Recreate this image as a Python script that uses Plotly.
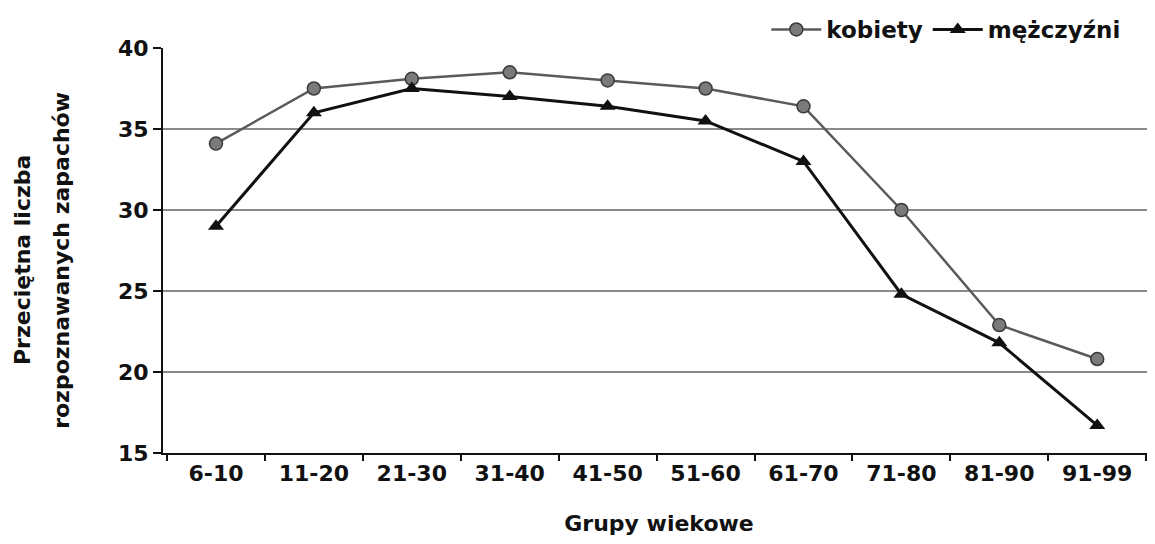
import plotly.graph_objects as go

categories = ["6-10", "11-20", "21-30", "31-40", "41-50", "51-60", "61-70", "71-80", "81-90", "91-99"]
kobiety = [34.1, 37.5, 38.1, 38.5, 38.0, 37.5, 36.4, 30.0, 22.9, 20.8]
mezczyzni = [29.0, 36.0, 37.5, 37.0, 36.4, 35.5, 33.0, 24.8, 21.8, 16.7]
y_ticks = [15, 20, 25, 30, 35, 40]
y_title_lines = ["Przeciętna liczba", "rozpoznawanych zapachów"]

FONT = "DejaVu Sans"
INK = "#111111"

fig = go.Figure()
fig.add_trace(go.Scatter(
    x=categories, y=kobiety, name="kobiety", mode="lines+markers",
    line=dict(color="#5a5a5a", width=2.5),
    marker=dict(symbol="circle", size=13, color="#7a7a7a", line=dict(color="#3a3a3a", width=1.5)),
))
fig.add_trace(go.Scatter(
    x=categories, y=mezczyzni, name="mężczyźni", mode="lines+markers",
    line=dict(color=INK, width=3),
    marker=dict(symbol="triangle-up", size=14, color=INK),
))

for xp, line in zip([-0.1421, -0.1030], y_title_lines):
    fig.add_annotation(
        text=line, xref="paper", yref="paper", x=xp, y=0.4765,
        xanchor="center", yanchor="middle", textangle=-90, showarrow=False,
        font=dict(family=FONT, size=22, color=INK, weight="bold"),
    )

fig.update_layout(
    width=1147, height=536,
    margin=dict(l=155, r=0, t=40, b=91, autoexpand=False),
    paper_bgcolor="white", plot_bgcolor="white",
    font=dict(family=FONT, color=INK),
    showlegend=True,
    legend=dict(orientation="h", x=0.975, xref="container", xanchor="right",
                y=1.0, yref="container", yanchor="top",
                font=dict(family=FONT, size=23, color=INK, weight="bold"),
                bgcolor="rgba(0,0,0,0)", traceorder="normal", itemwidth=50,
                tracegroupgap=0),
    xaxis=dict(
        type="category", showgrid=False, showline=True, linecolor=INK, linewidth=2,
        ticks="outside", tickson="boundaries", ticklen=6, tickcolor=INK, tickwidth=1.5,
        tickfont=dict(family=FONT, size=22, color=INK, weight="bold"),
        title=dict(text="Grupy wiekowe", font=dict(family=FONT, size=22, color=INK, weight="bold"), standoff=30),
        range=[-0.541, 9.59],
    ),
    yaxis=dict(
        range=[15, 40], tickvals=y_ticks, showgrid=True, gridcolor="#8a8a8a", gridwidth=1.5,
        showline=True, linecolor=INK, linewidth=2, zeroline=False,
        ticks="outside", ticklen=8, tickcolor=INK, tickwidth=1.5,
        tickfont=dict(family=FONT, size=22, color=INK, weight="bold"),
    ),
)

fig.write_html("out.html")
